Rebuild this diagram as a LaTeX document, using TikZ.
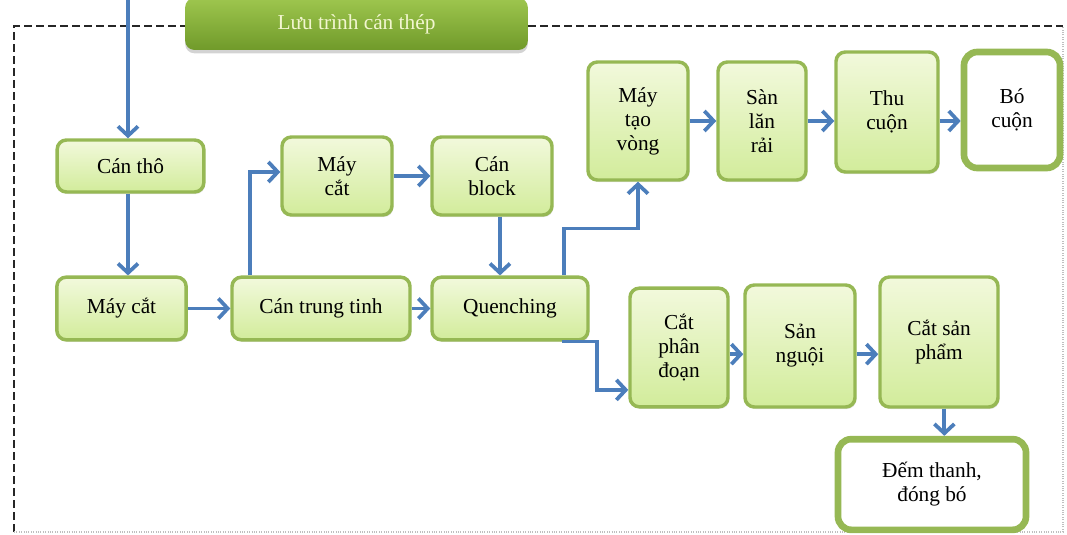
\documentclass[tikz,border=0pt]{standalone}
\usepackage{fontspec}
\setmainfont{Liberation Serif}
\usetikzlibrary{arrows.meta, shadows}
\definecolor{corCaixaTopo}{RGB}{242,249,220}
\definecolor{corCaixaBase}{RGB}{210,236,155}
\definecolor{bordaCaixa}{RGB}{150,184,84}
\definecolor{corSeta}{RGB}{76,126,187}
\definecolor{corTituloTopo}{RGB}{158,198,78}
\definecolor{corTituloBase}{RGB}{112,154,42}
\definecolor{textoTitulo}{RGB}{242,246,208}

\tikzset{
  caixa/.style={rounded corners=7pt, draw=bordaCaixa, line width=2.6pt,
        top color=corCaixaTopo, bottom color=corCaixaBase,
        align=center, inner sep=2pt,
        font=\fontsize{16}{18}\selectfont,
        drop shadow={opacity=0.2, shadow xshift=1pt, shadow yshift=-1.5pt}},
  caixaFim/.style={rounded corners=10pt, draw=bordaCaixa, line width=5pt,
        fill=white, align=center, inner sep=2pt,
        font=\fontsize{16}{18}\selectfont},
  seta/.style={draw=corSeta, line width=2.8pt,
        -{Straight Barb[length=7pt, width=15pt]}}
}

\begin{document}
\begin{tikzpicture}[x=0.75pt, y=-0.75pt]
  \useasboundingbox (0,0) rectangle (1067,535);

  %% ================================================================
  %%  MOLDURA tracejada e titulo
  %% ================================================================
  \draw[black!85, dash pattern=on 6pt off 3pt, line width=1.1pt]
        (14,532) -- (14,26) -- (1063,26);
  \draw[black!25, densely dotted, line width=0.8pt] (14,532) -- (1063,532) -- (1063,26);

  \node[rounded corners=7pt, top color=corTituloTopo, bottom color=corTituloBase,
        minimum width=257pt, minimum height=39pt,
        text=textoTitulo, font=\fontsize{16}{18}\selectfont,
        drop shadow={opacity=0.35, shadow xshift=0pt, shadow yshift=-2.5pt}]
        (titulo) at (356.5,24) {Lưu trình cán thép};

  %% ================================================================
  %%  LINHA PRINCIPAL
  %% ================================================================
  \node[caixa, minimum width=110pt, minimum height=39pt]
        (canTho) at (130.5,166) {Cán thô};
  \node[caixa, minimum width=97pt, minimum height=47pt]
        (mayCat) at (121.5,308.5) {Máy cắt};
  \node[caixa, minimum width=133.5pt, minimum height=47pt]
        (canTrung) at (321,308.5) {Cán trung tinh};
  \node[caixa, minimum width=117pt, minimum height=47pt]
        (quenching) at (510,308.5) {Quenching};

  % Desvio superior
  \node[caixa, minimum width=82.5pt, minimum height=58.5pt]
        (mayCatB) at (337,176) {Máy\\cắt};
  \node[caixa, minimum width=90pt, minimum height=58.5pt]
        (canBlock) at (492,176) {Cán\\block};

  %% ================================================================
  %%  RAMO DE CUON (acima)
  %% ================================================================
  \node[caixa, minimum width=75pt, minimum height=88.5pt]
        (mayTao) at (638,121) {Máy\\tạo\\vòng};
  \node[caixa, minimum width=66pt, minimum height=88.5pt]
        (sanLan) at (762,121) {Sàn\\lăn\\rải};
  \node[caixa, minimum width=76.5pt, minimum height=90pt]
        (thuCuon) at (887,112) {Thu\\cuộn};
  \node[caixaFim, minimum width=72pt, minimum height=87pt]
        (boCuon) at (1012,110) {Bó\\cuộn};

  %% ================================================================
  %%  RAMO DE BARRAS (abaixo)
  %% ================================================================
  \node[caixa, minimum width=73.5pt, minimum height=89pt]
        (catPhan) at (679,347.5) {Cắt\\phân\\đoạn};
  \node[caixa, minimum width=82.5pt, minimum height=91.5pt]
        (sanNguoi) at (800,346) {Sản\\nguội};
  \node[caixa, minimum width=88.5pt, minimum height=97.5pt]
        (catSan) at (939,342) {Cắt sản\\phẩm};
  \node[caixaFim, minimum width=141pt, minimum height=68pt]
        (demThanh) at (932,484.5) {Đếm thanh,\\đóng bó};

  %% ================================================================
  %%  SETAS
  %% ================================================================
  \coordinate (entrada) at (128,0);
  \draw[seta] (entrada) -- (entrada |- canTho.north);
  \draw[seta] (entrada |- canTho.south) -- (entrada |- mayCat.north);
  \draw[seta] (mayCat.east) -- (canTrung.west);
  \draw[seta] (canTrung.east) -- (quenching.west);
  \draw[seta] ([xshift=15pt]canTrung.north west) |- ([yshift=3pt]mayCatB.west);
  \draw[seta] (mayCatB.east) -- (canBlock.west);
  \draw[seta] ([xshift=6pt]canBlock.south) -- ([xshift=6pt]canBlock.south |- quenching.north);

  % Quenching -> cuon
  \draw[seta] ([xshift=-19.5pt]quenching.north east) -- ++(0,-47) -| (mayTao.south);
  \draw[seta] (mayTao.east) -- (sanLan.west);
  \draw[seta] (sanLan.east) -- (sanLan.east -| thuCuon.west);
  \draw[seta] (sanLan.east -| thuCuon.east) -- (sanLan.east -| boCuon.west);

  % Quenching -> barras
  \draw[seta] ([xshift=-21pt]quenching.south east) -- ++(35,0)
              |- ([yshift=14pt]catPhan.south west);
  \draw[seta] ([yshift=-5pt]catPhan.east) -- ([yshift=-5pt]catPhan.east -| sanNguoi.west);
  \draw[seta] ([yshift=-5pt]catPhan.east -| sanNguoi.east) -- ([yshift=-5pt]catPhan.east -| catSan.west);
  \draw[seta] ([xshift=4pt]catSan.south) -- ([xshift=4pt]catSan.south |- demThanh.north);

\end{tikzpicture}
\end{document}
